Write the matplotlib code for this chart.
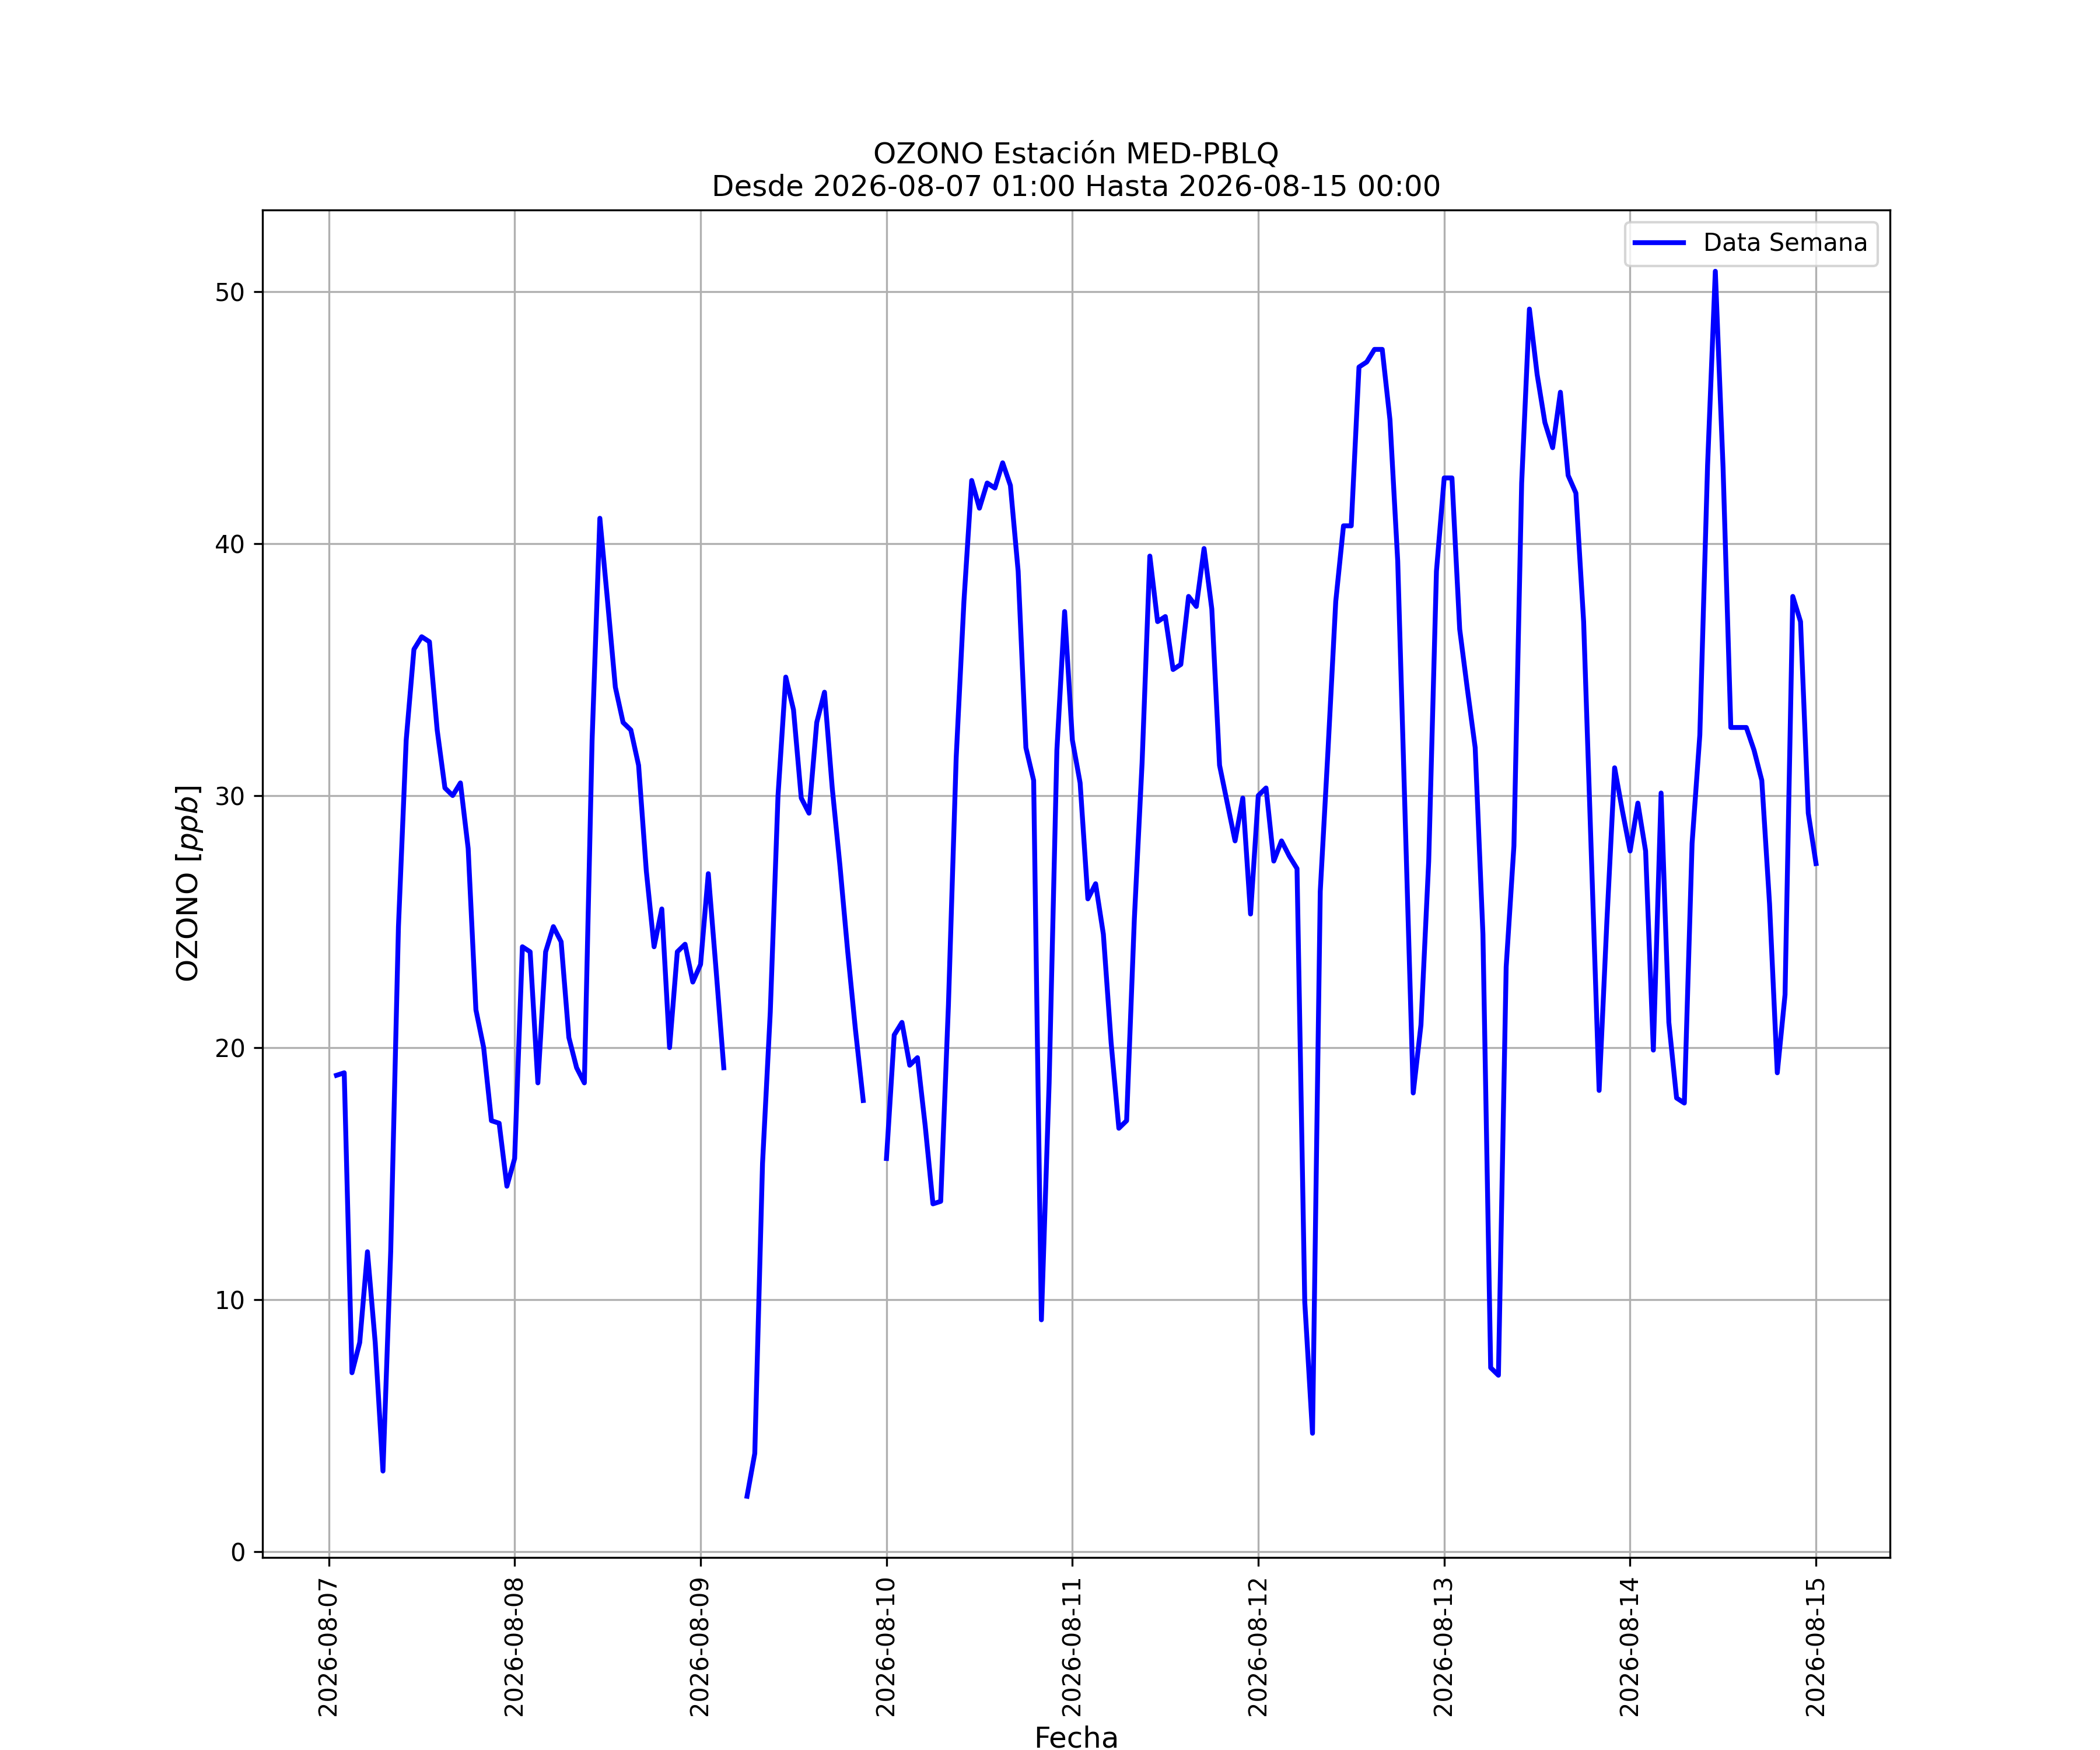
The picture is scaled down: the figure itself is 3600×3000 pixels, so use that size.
import numpy as np
import pandas as pd
import matplotlib
matplotlib.use('Agg')
import matplotlib.pyplot as plt

# estacion y periodo
estacion = 'MED-PBLQ'
inicio = '2026-08-07 01:00'
fin = '2026-08-15 00:00'

# datos horarios de ozono por dia (ppb), nan = sin dato
dia_07 = [18.9, 19.0, 7.1, 8.3, 11.9, 8.3, 3.2, 11.9, 24.8, 32.2, 35.8, 36.3,
          36.1, 32.6, 30.3, 30.0, 30.5, 27.9, 21.5, 20.0, 17.1, 17.0, 14.5]
dia_08 = [15.6, 24.0, 23.8, 18.6, 23.8, 24.8, 24.2, 20.4, 19.2, 18.6, 32.2, 41.0,
          37.7, 34.3, 32.9, 32.6, 31.2, 27.0, 24.0, 25.5, 20.0, 23.8, 24.1, 22.6]
dia_09 = [23.3, 26.9, 23.1, 19.2, np.nan, np.nan, 2.2, 3.9, 15.4, 21.4, 30.0, 34.7,
          33.4, 29.9, 29.3, 32.9, 34.1, 30.3, 27.2, 23.8, 20.7, 17.9, np.nan, np.nan]
dia_10 = [15.6, 20.5, 21.0, 19.3, 19.6, 16.9, 13.8, 13.9, 21.7, 31.5, 37.7, 42.5,
          41.4, 42.4, 42.2, 43.2, 42.3, 38.9, 31.9, 30.6, 9.2, 18.6, 31.8, 37.3]
dia_11 = [32.2, 30.5, 25.9, 26.5, 24.5, 20.2, 16.8, 17.1, 25.1, 31.3, 39.5, 36.9,
          37.1, 35.0, 35.2, 37.9, 37.5, 39.8, 37.4, 31.2, 29.7, 28.2, 29.9, 25.3]
dia_12 = [30.0, 30.3, 27.4, 28.2, 27.6, 27.1, 9.9, 4.7, 26.2, 31.8, 37.7, 40.7,
          40.7, 47.0, 47.2, 47.7, 47.7, 44.9, 39.3, 28.7, 18.2, 20.9, 27.4, 38.9]
dia_13 = [42.6, 42.6, 36.6, 34.2, 31.9, 24.5, 7.3, 7.0, 23.2, 28.0, 42.4, 49.3,
          46.7, 44.8, 43.8, 46.0, 42.7, 42.0, 36.9, 27.6, 18.3, 25.0, 31.1, 29.4]
dia_14 = [27.8, 29.7, 27.8, 19.9, 30.1, 21.0, 18.0, 17.8, 28.1, 32.4, 43.1, 50.8,
          43.0, 32.7, 32.7, 32.7, 31.8, 30.6, 25.7, 19.0, 22.1, 37.9, 36.9, 29.3]
dia_15 = [27.3]

ozono = dia_07 + dia_08 + dia_09 + dia_10 + dia_11 + dia_12 + dia_13 + dia_14 + dia_15
fechas = pd.date_range(inicio, fin, freq='h')

df = pd.DataFrame({'fecha': fechas, 'ozono': ozono})

fig = plt.figure(figsize=(12, 10))
ax = plt.gca()
plt.plot(df['fecha'], df['ozono'], color='blue', linewidth=2, label='Data Semana')
plt.title('OZONO Estación ' + estacion + '\nDesde ' + inicio + ' Hasta ' + fin)
plt.xlabel('Fecha', fontsize=12)
plt.ylabel('OZONO $[ppb]$', fontsize=12)
plt.xticks(rotation=90)
plt.grid(True)
plt.legend(loc='upper right')

plt.savefig('out.png', dpi=300)
